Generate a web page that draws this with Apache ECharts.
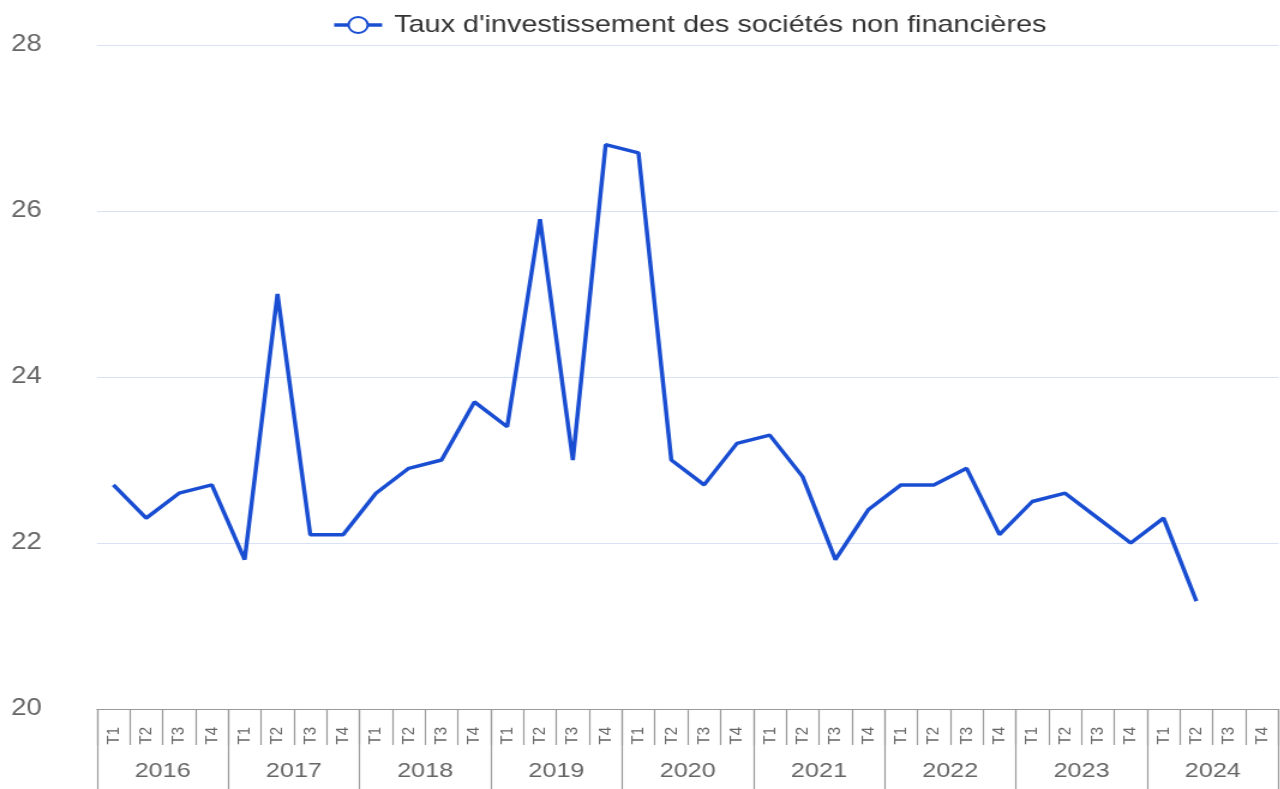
<!DOCTYPE html>
<html>
<head>
<meta charset="utf-8">
<script src="https://cdn.jsdelivr.net/npm/echarts@6/dist/echarts.min.js"></script>
<style>
  html, body { margin: 0; padding: 0; background: #fff; }
  #wrap { width: 1280px; height: 789px; overflow: hidden; }
  /* the chart is laid out narrower and widened horizontally */
  #chart { width: 1066.67px; height: 789px; transform: scaleX(1.2); transform-origin: 0 0; }
</style>
</head>
<body>
<div id="wrap"><div id="chart"></div></div>
<script>
// Quarterly investment rate of non-financial corporations (%)
const years = ['2016', '2017', '2018', '2019', '2020', '2021', '2022', '2023', '2024'];
const quarters = ['T1', 'T2', 'T3', 'T4'];
const seriesName = "Taux d'investissement des sociétés non financières";
const values = [
  22.7, 22.3, 22.6, 22.7,   // 2016
  21.8, 25.0, 22.1, 22.1,   // 2017
  22.6, 22.9, 23.0, 23.7,   // 2018
  23.4, 25.9, 23.0, 26.8,   // 2019
  26.7, 23.0, 22.7, 23.2,   // 2020
  23.3, 22.8, 21.8, 22.4,   // 2021
  22.7, 22.7, 22.9, 22.1,   // 2022
  22.5, 22.6, 22.3, 22.0,   // 2023
  22.3, 21.3, null, null    // 2024
];
const yTicks = { min: 20, max: 28, step: 2 };

const quarterLabels = [];
years.forEach(() => quarters.forEach(q => quarterLabels.push(q)));

const gray = '#9a9a9a';
const blue = '#1a4ed2';
const chart = echarts.init(document.getElementById('chart'));
chart.setOption({
  animation: false,
  textStyle: { fontFamily: '"Liberation Sans", Arial, Helvetica, sans-serif' },
  legend: {
    left: 271.7,
    top: 8,
    itemWidth: 40,
    itemHeight: 20,
    lineStyle: { width: 3.5 },
    itemStyle: { borderWidth: 3 },
    textStyle: { fontSize: 24, color: '#333', padding: [0, 0, 0, 5] },
    data: [seriesName]
  },
  grid: { left: 80.8, right: 1.67, top: 45, bottom: 80 },
  xAxis: [
    {
      type: 'category',
      data: quarterLabels,
      position: 'bottom',
      axisLine: { show: true, lineStyle: { color: gray, width: 1.2 } },
      axisTick: { show: true, interval: 0, length: 36, lineStyle: { color: gray, width: 1.2 } },
      axisLabel: { interval: 0, rotate: 90, margin: 18, fontSize: 15, color: '#666' },
      splitLine: { show: false }
    },
    {
      type: 'category',
      data: years,
      position: 'bottom',
      axisLine: { show: false },
      axisTick: { show: true, interval: 0, length: 100, lineStyle: { color: gray, width: 1.2 } },
      axisLabel: { interval: 0, margin: 52, fontSize: 21, color: '#666' },
      splitLine: { show: false }
    }
  ],
  yAxis: {
    type: 'value',
    min: yTicks.min,
    max: yTicks.max,
    interval: yTicks.step,
    axisLine: { show: false },
    axisTick: { show: false },
    axisLabel: { margin: 46, fontSize: 23, color: '#666' },
    splitLine: { lineStyle: { color: '#d9e1f5', width: 1.2 } }
  },
  series: [{
    name: seriesName,
    type: 'line',
    xAxisIndex: 0,
    data: values,
    showSymbol: false,
    symbol: 'emptyCircle',
    symbolSize: 14,
    connectNulls: false,
    lineStyle: { color: blue, width: 3.5 },
    itemStyle: { color: blue, borderWidth: 3 }
  }]
});
</script>
</body>
</html>
